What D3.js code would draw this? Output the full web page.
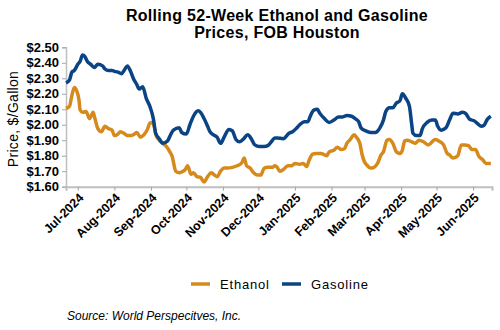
<!DOCTYPE html>
<html><head><meta charset="utf-8">
<script src="https://cdn.jsdelivr.net/npm/d3@7"></script>
<style>body{margin:0;background:#fff}svg{display:block;font-family:"Liberation Sans",Arial,sans-serif}</style>
</head><body><svg id="c" width="500" height="330"></svg>
<script>
const titleLines = ["Rolling 52-Week Ethanol and Gasoline", "Prices, FOB Houston"];
const yTicks = [1.6,1.7,1.8,1.9,2.0,2.1,2.2,2.3,2.4,2.5];
const xTickLabels = ["Jul-2024","Aug-2024","Sep-2024","Oct-2024","Nov-2024","Dec-2024","Jan-2025","Feb-2025","Mar-2025","Apr-2025","May-2025","Jun-2025"];
const gasolineDates = ["2024-06-21","2024-06-24","2024-06-26","2024-06-28","2024-07-01","2024-07-03","2024-07-05","2024-07-07","2024-07-09","2024-07-12","2024-07-15","2024-07-18","2024-07-22","2024-07-24","2024-07-27","2024-07-30","2024-08-01","2024-08-04","2024-08-07","2024-08-10","2024-08-12","2024-08-15","2024-08-17","2024-08-20","2024-08-22","2024-08-25","2024-08-28","2024-08-31","2024-09-03","2024-09-05","2024-09-08","2024-09-11","2024-09-15","2024-09-17","2024-09-20","2024-09-25","2024-09-27","2024-10-01","2024-10-04","2024-10-07","2024-10-11","2024-10-13","2024-10-16","2024-10-19","2024-10-21","2024-10-24","2024-10-27","2024-10-30","2024-11-02","2024-11-06","2024-11-09","2024-11-12","2024-11-15","2024-11-18","2024-11-22","2024-11-25","2024-11-28","2024-12-02","2024-12-06","2024-12-09","2024-12-12","2024-12-15","2024-12-17","2024-12-22","2024-12-27","2024-12-30","2025-01-02","2025-01-05","2025-01-09","2025-01-12","2025-01-14","2025-01-17","2025-01-20","2025-01-22","2025-01-26","2025-01-30","2025-02-03","2025-02-07","2025-02-10","2025-02-14","2025-02-18","2025-02-21","2025-02-24","2025-02-26","2025-03-02","2025-03-06","2025-03-10","2025-03-14","2025-03-17","2025-03-19","2025-03-22","2025-03-25","2025-03-28","2025-03-31","2025-04-02","2025-04-05","2025-04-08","2025-04-10","2025-04-11","2025-04-14","2025-04-17","2025-04-19","2025-04-23","2025-04-27","2025-04-30","2025-05-02","2025-05-05","2025-05-09","2025-05-12","2025-05-15","2025-05-19","2025-05-23","2025-05-26","2025-05-29","2025-06-02","2025-06-05","2025-06-08","2025-06-10","2025-06-13","2025-06-16"];
const gasolineValues = [2.27,2.29,2.34,2.35,2.39,2.41,2.45,2.44,2.41,2.39,2.37,2.39,2.38,2.36,2.35,2.35,2.345,2.34,2.33,2.36,2.38,2.34,2.30,2.26,2.23,2.245,2.17,2.12,2.04,1.945,1.91,1.88,1.895,1.925,1.965,1.98,1.95,1.94,2.00,2.055,2.09,2.08,2.04,1.99,1.955,1.935,1.92,1.88,1.92,1.97,1.96,1.905,1.89,1.905,1.935,1.91,1.87,1.86,1.86,1.865,1.89,1.915,1.915,1.91,1.945,1.955,1.975,2.00,2.02,2.02,2.055,2.095,2.10,2.075,2.04,2.015,2.03,2.05,2.05,2.06,2.055,2.04,2.02,1.98,1.96,1.95,1.95,1.98,2.03,2.085,2.11,2.11,2.14,2.155,2.20,2.17,2.12,2.00,1.945,1.93,1.93,1.975,2.015,2.03,2.03,1.99,1.965,1.98,2.03,2.075,2.07,2.08,2.07,2.035,2.025,2.005,1.99,1.995,2.035,2.055];
const ethanolDates = ["2024-06-21","2024-06-24","2024-06-26","2024-06-28","2024-06-30","2024-07-02","2024-07-03","2024-07-05","2024-07-08","2024-07-11","2024-07-14","2024-07-15","2024-07-18","2024-07-21","2024-07-24","2024-07-27","2024-07-30","2024-08-01","2024-08-04","2024-08-06","2024-08-10","2024-08-12","2024-08-15","2024-08-18","2024-08-20","2024-08-23","2024-08-26","2024-08-29","2024-08-31","2024-09-02","2024-09-04","2024-09-05","2024-09-08","2024-09-11","2024-09-14","2024-09-17","2024-09-19","2024-09-20","2024-09-22","2024-09-25","2024-09-27","2024-09-30","2024-10-02","2024-10-05","2024-10-07","2024-10-10","2024-10-13","2024-10-16","2024-10-19","2024-10-22","2024-10-24","2024-10-27","2024-10-30","2024-11-02","2024-11-05","2024-11-09","2024-11-13","2024-11-17","2024-11-19","2024-11-21","2024-11-24","2024-11-27","2024-11-30","2024-12-03","2024-12-06","2024-12-09","2024-12-13","2024-12-15","2024-12-17","2024-12-19","2024-12-22","2024-12-26","2024-12-29","2025-01-01","2025-01-05","2025-01-08","2025-01-11","2025-01-13","2025-01-16","2025-01-19","2025-01-23","2025-01-28","2025-01-30","2025-02-03","2025-02-06","2025-02-09","2025-02-12","2025-02-14","2025-02-17","2025-02-20","2025-02-22","2025-02-25","2025-02-27","2025-03-01","2025-03-03","2025-03-06","2025-03-09","2025-03-12","2025-03-15","2025-03-17","2025-03-20","2025-03-22","2025-03-25","2025-03-28","2025-03-31","2025-04-02","2025-04-04","2025-04-06","2025-04-10","2025-04-13","2025-04-16","2025-04-20","2025-04-24","2025-04-30","2025-05-04","2025-05-07","2025-05-10","2025-05-12","2025-05-15","2025-05-19","2025-05-22","2025-05-25","2025-05-28","2025-05-31","2025-06-03","2025-06-06","2025-06-09","2025-06-12","2025-06-16"];
const ethanolValues = [2.105,2.12,2.19,2.24,2.22,2.16,2.095,2.08,2.085,2.04,2.08,2.055,1.975,1.955,1.99,1.975,1.965,1.93,1.94,1.955,1.94,1.93,1.93,1.94,1.95,1.92,1.935,1.97,2.01,2.015,1.98,1.94,1.90,1.88,1.86,1.825,1.795,1.76,1.70,1.69,1.695,1.71,1.735,1.68,1.69,1.665,1.66,1.63,1.665,1.69,1.68,1.665,1.70,1.72,1.72,1.725,1.735,1.755,1.785,1.735,1.72,1.69,1.675,1.675,1.72,1.725,1.725,1.735,1.725,1.70,1.71,1.735,1.735,1.75,1.745,1.75,1.73,1.77,1.81,1.815,1.815,1.80,1.825,1.835,1.855,1.84,1.845,1.88,1.905,1.935,1.92,1.88,1.805,1.76,1.74,1.72,1.725,1.75,1.805,1.825,1.90,1.905,1.88,1.825,1.815,1.835,1.895,1.90,1.89,1.88,1.90,1.89,1.87,1.905,1.89,1.87,1.815,1.805,1.785,1.80,1.87,1.87,1.865,1.84,1.84,1.795,1.775,1.75,1.75];
const seriesNames = ["Ethanol","Gasoline"];
const seriesColors = ["#D68A1C","#0B4485"];

const parse = d3.timeParse("%Y-%m-%d");
const svg = d3.select("#c");
const L = 66, R = 492, T = 47.3, B = 186.7;
const x = d3.scaleTime().domain([parse("2024-06-21"), parse("2025-06-17")]).range([L, R]);
const y = d3.scaleLinear().domain([1.6, 2.5]).range([B, T]);

// title
svg.append("text").attr("x", 277).attr("y", 21).attr("text-anchor","middle")
  .attr("font-size", 16).attr("font-weight","bold").attr("letter-spacing", 0.3)
  .selectAll("tspan").data(titleLines).join("tspan")
  .attr("x", 277).attr("dy", (d,i)=> i ? 16.5 : 0).text(d=>d);

// y axis
const yAxis = svg.append("g").attr("transform", `translate(${L},0)`)
  .call(d3.axisLeft(y).tickValues(yTicks).tickSize(4).tickPadding(3).tickFormat(d=>"$"+d.toFixed(2)));
yAxis.select(".domain").attr("stroke","#bfbfbf").attr("stroke-width",1.5);
yAxis.selectAll(".tick line").attr("stroke","#a6a6a6");
yAxis.selectAll("text").attr("font-size",13).attr("font-weight","bold").attr("fill","#000")
  .attr("font-family","Liberation Sans, Arial, sans-serif");

// x axis
const monthTicks = xTickLabels.map(s => d3.timeParse("%b-%Y")(s));
const xAxis = svg.append("g").attr("transform", `translate(0,${B})`)
  .call(d3.axisBottom(x).tickValues(monthTicks).tickSize(4).tickFormat((d,i)=>xTickLabels[i]));
xAxis.select(".domain").attr("stroke","#bfbfbf").attr("stroke-width",2);
xAxis.selectAll(".tick line").attr("stroke","#a6a6a6");
xAxis.selectAll("text").attr("font-size",12.5).attr("font-weight","bold").attr("fill","#000")
  .attr("font-family","Liberation Sans, Arial, sans-serif")
  .attr("text-anchor","end").attr("y",0).attr("dy","0")
  .attr("transform","translate(6,12) rotate(-45)");

// y title
svg.append("text").attr("transform","translate(18,119) rotate(-90)").attr("text-anchor","middle")
  .attr("font-size",14).attr("letter-spacing",0.3).text("Price, $/Gallon");

// lines
const line = d3.line().x(d=>x(d.date)).y(d=>y(d.v)).curve(d3.curveMonotoneX);
const ethanol = ethanolDates.map((d,i)=>({date: parse(d), v: ethanolValues[i]}));
const gasoline = gasolineDates.map((d,i)=>({date: parse(d), v: gasolineValues[i]}));
[ethanol, gasoline].forEach((s,i)=>{
  svg.append("path").datum(s).attr("d", line).attr("fill","none")
    .attr("stroke", seriesColors[i]).attr("stroke-width",3.5).attr("stroke-linejoin","round");
});

// legend
const legX = [191, 282];
seriesNames.forEach((n,i)=>{
  svg.append("line").attr("x1",legX[i]).attr("x2",legX[i]+19).attr("y1",284).attr("y2",284)
    .attr("stroke",seriesColors[i]).attr("stroke-width",3.5);
  svg.append("text").attr("x",legX[i]+29).attr("y",289).attr("font-size",13).attr("letter-spacing",0.8).text(n);
});

// source
svg.append("text").attr("x",67).attr("y",320).attr("font-size",12).attr("font-style","italic")
  .text("Source: World Perspecitves, Inc.");
</script></body></html>
